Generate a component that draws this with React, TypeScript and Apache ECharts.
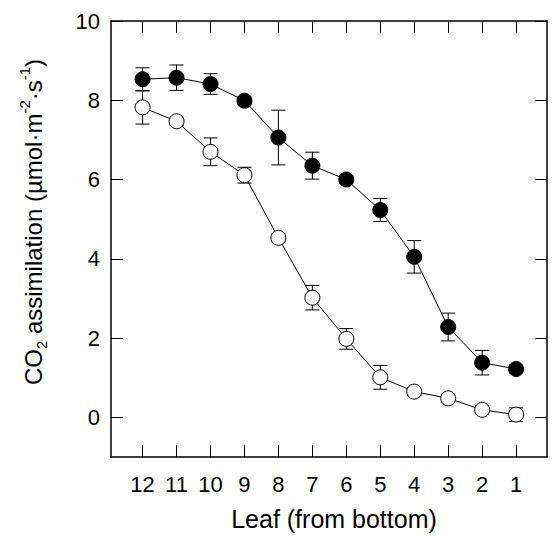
import React, { useEffect, useRef } from "react";
import * as echarts from "echarts";

const leaves = [12, 11, 10, 9, 8, 7, 6, 5, 4, 3, 2, 1];
const filledMean = [8.53, 8.57, 8.41, 7.99, 7.06, 6.35, 6.0, 5.23, 4.05, 2.28, 1.38, 1.22];
const filledErr = [0.29, 0.32, 0.26, 0.1, 0.69, 0.34, 0.1, 0.29, 0.41, 0.35, 0.31, 0.1];
const openMean = [7.82, 7.47, 6.7, 6.11, 4.53, 3.02, 1.98, 1.01, 0.65, 0.48, 0.19, 0.07];
const openErr = [0.42, 0.1, 0.35, 0.2, 0.1, 0.31, 0.26, 0.3, 0.1, 0.1, 0.1, 0.17];
const yTicks = [0, 2, 4, 6, 8, 10];

const FONT = "'Liberation Sans', Arial, Helvetica, sans-serif";

function errData(mean: number[], err: number[]) {
  return leaves.map((x, i) => [x, mean[i] - err[i], mean[i] + err[i]]);
}

const renderErr = (params: any, api: any) => {
  const x = api.value(0);
  const lo = api.coord([x, api.value(1)]);
  const hi = api.coord([x, api.value(2)]);
  const hw = 7;
  const style = { stroke: "#000", lineWidth: 1 };
  return {
    type: "group",
    children: [
      { type: "line", shape: { x1: lo[0], y1: lo[1], x2: hi[0], y2: hi[1] }, style },
      { type: "line", shape: { x1: hi[0] - hw, y1: hi[1], x2: hi[0] + hw, y2: hi[1] }, style },
      { type: "line", shape: { x1: lo[0] - hw, y1: lo[1], x2: lo[0] + hw, y2: lo[1] }, style },
    ],
  };
};

export default function App() {
  const ref = useRef<HTMLDivElement>(null);
  useEffect(() => {
    if (!ref.current) return;
    const chart = echarts.init(ref.current, null, { renderer: "svg" });
    const axisLine = { show: true, onZero: false, lineStyle: { color: "#000", width: 1.5 } };
    const tick = (vals: number[]) => ({
      show: true,
      inside: true,
      length: 12,
      customValues: vals,
      lineStyle: { color: "#000", width: 1 },
    });
    const option: any = {
      animation: false,
      backgroundColor: "#fff",
      grid: { left: 111, top: 21, width: 436, height: 436 },
      xAxis: [
        {
          type: "value",
          inverse: true,
          min: 0.09,
          max: 12.93,
          position: "bottom",
          axisLine,
          splitLine: { show: false },
          axisTick: tick(leaves),
          axisLabel: { customValues: leaves, color: "#000", fontSize: 22, fontFamily: FONT, margin: 16 },
        },
        {
          type: "value",
          inverse: true,
          min: 0.09,
          max: 12.93,
          position: "top",
          axisLine,
          splitLine: { show: false },
          axisTick: tick(leaves),
          axisLabel: { show: false },
        },
      ],
      yAxis: [
        {
          type: "value",
          min: -1,
          max: 10,
          position: "left",
          axisLine,
          splitLine: { show: false },
          axisTick: tick(yTicks),
          axisLabel: { customValues: yTicks, color: "#000", fontSize: 22, fontFamily: FONT, margin: 11 },
        },
        {
          type: "value",
          min: -1,
          max: 10,
          position: "right",
          axisLine,
          splitLine: { show: false },
          axisTick: tick(yTicks),
          axisLabel: { show: false },
        },
      ],
      graphic: [
        {
          type: "text",
          x: 334,
          y: 519,
          style: {
            text: "Leaf (from bottom)",
            font: `25px ${FONT}`,
            fill: "#000",
            align: "center",
            verticalAlign: "middle",
          },
        },
        {
          type: "text",
          x: 33,
          y: 222,
          rotation: Math.PI / 2,
          style: {
            text: "CO{sub|2} assimilation (µmol·m{sup|-2}·s{sup|-1})",
            font: `24px ${FONT}`,
            fontSize: 24,
            fontFamily: FONT,
            fill: "#000",
            align: "center",
            verticalAlign: "middle",
            lineHeight: 32,
            rich: {
              sub: { fontSize: 15, fontFamily: FONT, fill: "#000", verticalAlign: "bottom", lineHeight: 15 },
              sup: { fontSize: 15, fontFamily: FONT, fill: "#000", verticalAlign: "top", lineHeight: 15 },
            },
          },
        },
      ],
      series: [
        {
          type: "custom",
          renderItem: renderErr,
          data: errData(filledMean, filledErr),
          encode: { x: 0, y: [1, 2] },
          z: 1,
          silent: true,
        },
        {
          type: "custom",
          renderItem: renderErr,
          data: errData(openMean, openErr),
          encode: { x: 0, y: [1, 2] },
          z: 1,
          silent: true,
        },
        {
          type: "line",
          data: leaves.map((x, i) => [x, openMean[i]]),
          symbol: "circle",
          symbolSize: 15,
          lineStyle: { color: "#000", width: 1 },
          itemStyle: { color: "#fff", borderColor: "#000", borderWidth: 1 },
          z: 3,
        },
        {
          type: "line",
          data: leaves.map((x, i) => [x, filledMean[i]]),
          symbol: "circle",
          symbolSize: 15,
          lineStyle: { color: "#000", width: 1 },
          itemStyle: { color: "#000", borderColor: "#000", borderWidth: 1 },
          z: 3,
        },
      ],
    };
    chart.setOption(option);
    return () => chart.dispose();
  }, []);
  return (
    <div
      ref={ref}
      style={{ position: "fixed", left: 0, top: 0, width: 553, height: 539, background: "#fff" }}
    />
  );
}
